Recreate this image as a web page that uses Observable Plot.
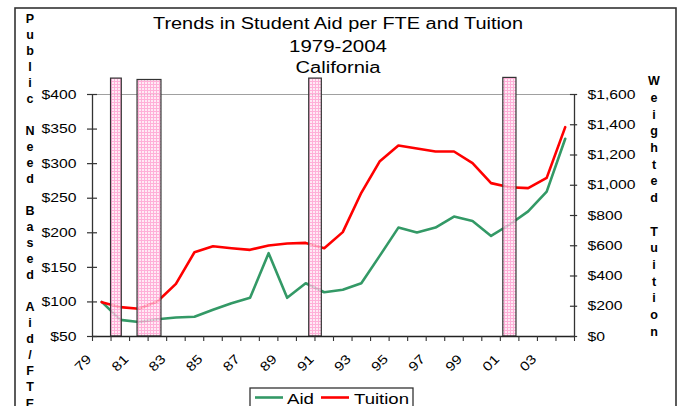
<!DOCTYPE html>
<html><head><meta charset="utf-8">
<script src="https://cdn.jsdelivr.net/npm/d3@7"></script>
<script src="https://cdn.jsdelivr.net/npm/@observablehq/plot@0.6"></script>
<style>body{margin:0;background:#fff;} svg{display:block}</style>
</head><body><div id="chart"></div>
<script>
const years = [1979,1980,1981,1982,1983,1984,1985,1986,1987,1988,1989,1990,1991,1992,1993,1994,1995,1996,1997,1998,1999,2000,2001,2002,2003,2004];
const aid = [100,74,71,75,77.5,78.5,88.6,98,106,170.5,106,127,114,117.5,127,167,207.5,200.5,207.5,223.5,217,195.5,212,231,259.5,336];
const tuition = [227,194,183,231,348,557,597,584,573,602,615,619,584,690,950,1159,1263,1243,1223,1223,1146,1014,987,981,1049,1384];
const recessionStart = [1980.0, 1981.43, 1990.69, 2001.16];
const recessionEnd = [1980.58, 1982.72, 1991.37, 2001.87];
const recessionTop = [423, 421, 423, 424];
const leftTicks = [50,100,150,200,250,300,350,400];
const leftTickLabels = ["$50","$100","$150","$200","$250","$300","$350","$400"];
const rightTicks = [0,200,400,600,800,1000,1200,1400,1600];
const rightTickLabels = ["$0","$200","$400","$600","$800","$1,000","$1,200","$1,400","$1,600"];
const labelYears = [1979,1981,1983,1985,1987,1989,1991,1993,1995,1997,1999,2001,2003];
const xLabels = ["79","81","83","85","87","89","91","93","95","97","99","01","03"];
const titleLines = ["Trends in Student Aid per FTE and Tuition","1979-2004","California"];
const leftTitle = "Public Need Based Aid/FTE";
const rightTitle = "Weighted Tuition";
const seriesNames = ["Aid","Tuition"];
const colors = ["#339966","#ff0000"];

const toLeft = v => 50 + v * 350 / 1600;
const rows = years.map((y,i) => ({year: y, aid: aid[i], tuition: toLeft(tuition[i])}));
const recs = recessionStart.map((s,i) => ({s, e: recessionEnd[i], top: recessionTop[i]}));
const tickYears = d3.range(1979, 2006);
const font = "'Liberation Sans', Arial, sans-serif";

const chart = Plot.plot({
  width: 683, height: 406,
  marginLeft: 92, marginRight: 109, marginTop: 94, marginBottom: 70,
  x: {type: "linear", domain: [1979, 2005], axis: null},
  y: {type: "linear", domain: [50, 400], axis: null},
  style: {fontFamily: font, fontSize: "13px", background: "white", color: "black", overflow: "visible"},
  marks: [
    Plot.ruleY([400], {stroke: "#a0a0a0", strokeWidth: 1.2}),
    Plot.line(rows, {x: d => d.year + 0.5, y: "aid", stroke: colors[0], strokeWidth: 2.6}),
    Plot.line(rows, {x: d => d.year + 0.5, y: "tuition", stroke: colors[1], strokeWidth: 2.6}),
    Plot.rect(recs, {x1: "s", x2: "e", y1: 50, y2: "top", fill: "url(#pinkgrid)", fillOpacity: 0.82, stroke: "#333", strokeWidth: 1.2}),
    Plot.ruleX([1979, 2005], {y1: 50, y2: 400, stroke: "#333", strokeWidth: 1.3}),
    Plot.ruleY([50], {x1: 1979, x2: 2005, stroke: "#222", strokeWidth: 1.3}),
    Plot.ruleY(leftTicks, {x1: 1979 - 0.27, x2: 1979 + 0.27, stroke: "#333", strokeWidth: 1.2}),
    Plot.ruleY(rightTicks.map(toLeft), {x1: 2005 - 0.22, x2: 2005 + 0.17, stroke: "#333", strokeWidth: 1.2}),
    Plot.ruleX(tickYears, {y1: 50, y2: 50 - 5 / 0.6914, stroke: "#333", strokeWidth: 1.1}),
    Plot.text(leftTicks, {x: 1979, y: d => d, text: (d, i) => leftTickLabels[i], textAnchor: "end", dx: -16, fontSize: 13, fill: "black"}),
    Plot.text(rightTicks, {x: 2005, y: d => toLeft(d), text: (d, i) => rightTickLabels[i], textAnchor: "start", dx: 13, fontSize: 13, fill: "black"})
  ]
});
document.getElementById("chart").appendChild(chart);

const svg = d3.select(chart);
// stretch plot texts horizontally like the reference
svg.selectAll("text").each(function() {
  if (!this.textContent) return;
  const L = this.getComputedTextLength();
  this.setAttribute("textLength", L * 1.21);
  this.setAttribute("lengthAdjust", "spacingAndGlyphs");
});

const xs = chart.scale("x");
const xScale = v => (xs && xs.apply) ? xs.apply(v) : 92 + (v - 1979) * 482 / 26;
const ys = chart.scale("y");
const yScale = v => (ys && ys.apply) ? ys.apply(v) : 336 - (v - 50) * 242 / 350;

// rotated category labels, positioned with the plot's scales
labelYears.forEach((yr, i) => {
  const ax = xScale(yr + 0.5) - 12, ay = yScale(50) + 21;
  svg.append("text")
    .style("transform", `translate(${ax}px,${ay}px) rotate(-45deg) scale(1.2,1)`)
    .style("transform-origin", "0 0")
    .attr("text-anchor", "end").attr("font-family", font).attr("font-size", 13).attr("fill", "black")
    .attr("dy", "0.32em").text(xLabels[i]);
});

const defs = svg.insert("defs", ":first-child");
const pat = defs.append("pattern").attr("id", "pinkgrid").attr("width", 3).attr("height", 3).attr("patternUnits", "userSpaceOnUse");
pat.append("rect").attr("width", 3).attr("height", 3).attr("fill", "#ffe6f3");
pat.append("path").attr("d", "M0 0.5H3M0.5 0V3").attr("stroke", "#ff9fd0").attr("stroke-width", 1);

// outer border
svg.append("rect").attr("x", 15).attr("y", 8).attr("width", 661).attr("height", 420)
  .attr("fill", "none").attr("stroke", "#333").attr("stroke-width", 1.6);

// title
const tY = [29.3, 51.5, 73.3];
const tW = [370, 98, 85];
titleLines.forEach((s, i) => {
  svg.append("text").attr("x", 338).attr("y", tY[i]).attr("text-anchor", "middle")
    .attr("font-family", font).attr("font-size", 16).attr("fill", "black")
    .attr("textLength", tW[i]).attr("lengthAdjust", "spacingAndGlyphs").text(s);
});

// stacked axis titles
leftTitle.split("").forEach((c, i) => {
  if (c === " ") return;
  svg.append("text").attr("x", 30).attr("y", 22.8 + i * 16.03).attr("text-anchor", "middle")
    .attr("font-family", font).attr("font-size", 12.5).attr("font-weight", "bold").attr("fill", "black").text(c);
});
rightTitle.split("").forEach((c, i) => {
  if (c === " ") return;
  svg.append("text").attr("x", 654).attr("y", 85.2 + i * 16.7).attr("text-anchor", "middle")
    .attr("font-family", font).attr("font-size", 12.5).attr("font-weight", "bold").attr("fill", "black").text(c);
});

// legend
const lg = svg.append("g");
lg.append("rect").attr("x", 250).attr("y", 388).attr("width", 163).attr("height", 40)
  .attr("fill", "white").attr("stroke", "#333").attr("stroke-width", 1.3);
const lx = [255, 321], tx = [287, 354], tw = [27, 55];
seriesNames.forEach((n, i) => {
  lg.append("line").attr("x1", lx[i]).attr("x2", lx[i] + 28).attr("y1", 397.5).attr("y2", 397.5)
    .attr("stroke", colors[i]).attr("stroke-width", 2.6);
  lg.append("text").attr("x", tx[i]).attr("y", 404).attr("text-anchor", "start").attr("font-family", font).attr("font-size", 15.5)
    .attr("fill", "black").attr("textLength", tw[i]).attr("lengthAdjust", "spacingAndGlyphs").text(n);
});
</script>
</body></html>
